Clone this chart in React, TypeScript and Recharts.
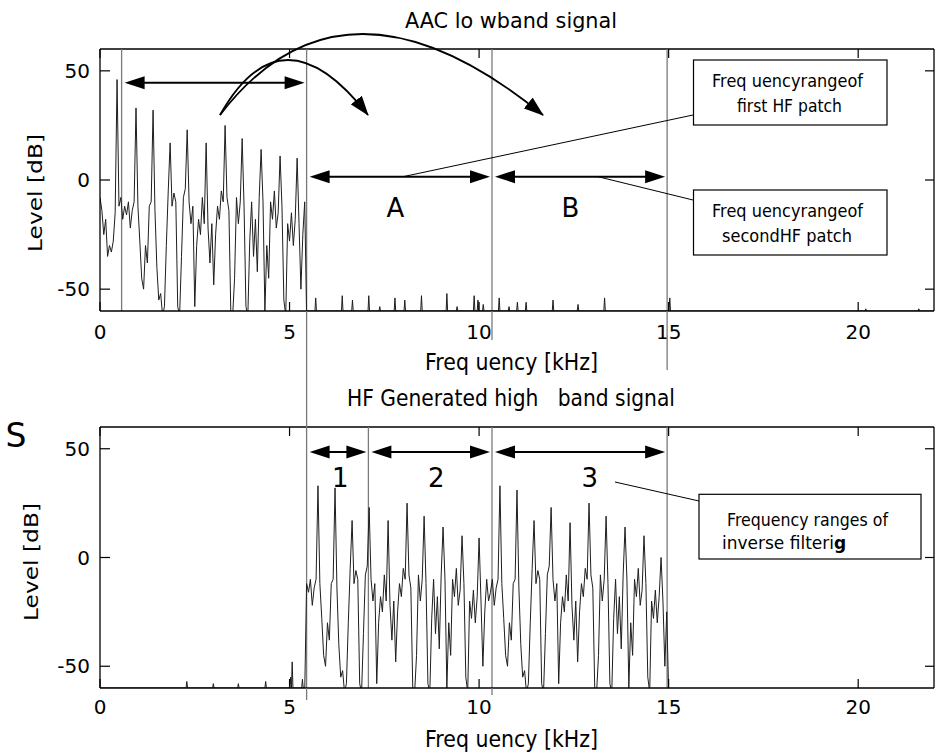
import React from 'react';
import { LineChart, Line, XAxis, YAxis, ReferenceLine, ReferenceDot } from 'recharts';

const FONT = '"DejaVu Sans", Verdana, sans-serif';

// spectrum bins (kHz)
const BIN = 0.05;
const LOWBAND_START = 0;
const HF_START = 5.4;

// AAC lowband spectrum, 0.00 .. 5.45 kHz
const lowbandLevels = [
  -8, -14, -25, -18, -35, -30, -33, -28, -15, 46,
  -12, -8, -18, -12, -16, -10, -22, -14, -10, 33,
  -12, -28, -45, -50, -30, -38, -12, -10, 32, -14,
  -40, -55, -52, -62, -58, -30, -5, 17, -12, -6,
  -10, -58, -62, -35, -8, -4, 23, -10, -20, -12,
  -58, -30, -18, -25, -8, -20, 17, -22, -38, -20,
  -48, -25, -12, -18, -5, -10, 25, -8, -14, -60,
  -62, -45, -8, -20, -10, 19, -12, -58, -62, -28,
  -10, -35, -18, -42, -8, 14, -10, -60, -30, -45,
  -10, -18, -5, -22, -15, 11, -12, -55, -62, -20,
  -28, -15, -30, -18, 10, -20, -50, -25, -10, -62,
];

// HF generated spectrum, 5.40 .. 15.00 kHz
const hfLevels = [
  -62,
  -12, -16, -10, -22, -14, -10, 33,
  -12, -28, -45, -50, -30, -38, -12, -10, 32, -14,
  -40, -55, -52, -62, -58, -30, -5, 17, -12, -6,
  -10, -58, -62, -35, -8, -4, 23, -10, -20, -12,
  -58, -30, -18, -25, -8, -20, 17, -22, -38, -20,
  -48, -25, -12, -18, -5, -10, 25, -8, -14, -60,
  -62, -45, -8, -20, -10, 19, -12, -58, -62, -28,
  -10, -35, -18, -42, -8, 14, -10, -60, -30, -45,
  -10, -18, -5, -22, -15, 10, -12, -55, -62, -20,
  -28, -15, -30, -18, 9, -20, -50, -25, -10, -20,
  -16, -10, -22, -14, -10, 33,
  -12, -28, -45, -50, -30, -38, -12, -10, 31, -14,
  -40, -55, -52, -62, -58, -30, -5, 17, -12, -6,
  -10, -58, -62, -35, -8, -4, 23, -10, -20, -12,
  -58, -30, -18, -25, -8, -20, 16, -22, -38, -20,
  -48, -25, -12, -18, -5, -10, 25, -8, -14, -60,
  -62, -45, -8, -20, -10, 19, -12, -58, -62, -28,
  -10, -35, -18, -42, -8, 14, -10, -60, -30, -45,
  -10, -18, -5, -22, -15, 10, -12, -55, -62, -20,
  -28, -15, -30, -18, 0, -20, -50, -25,
  -62,
];

// small residual spikes sitting on the floor
const FLOOR = -60;
const upperSpikeFreqs = [5.69, 6.39, 6.66, 7.09, 7.38, 7.78, 8.04, 8.48, 9.15, 9.42, 9.87, 9.97, 10.11, 10.53, 10.79, 11.01, 11.24, 11.95, 12.61, 13.31, 15.03, 20.2, 21.6];
const upperSpikeLevels = [-54, -53, -55, -53, -58, -54, -55, -53, -52, -58, -53, -55, -57, -54, -58, -56, -56, -55, -57, -54, -54, -59, -59];
const lowerSpikeFreqs = [2.29, 2.99, 3.65, 4.37, 5.03, 5.07, 5.34];
const lowerSpikeLevels = [-57, -58, -58, -57, -55, -48, -56];

const xTicks = [0, 5, 10, 15, 20];
const yTicks = [-50, 0, 50];

// patch borders (kHz)
const topMarkers = [0.57, 5.45, 10.34, 14.96];
const bottomMarkers = [5.45, 7.08, 10.34, 14.96];

// [from kHz, to kHz, level dB]
const topRanges: [number, number, number][] = [[0.57, 5.45, 44.5], [5.45, 10.34, 1.5], [10.34, 14.96, 1.5]];
const bottomRanges: [number, number, number][] = [[5.45, 7.08, 48.5], [7.08, 10.34, 48.5], [10.34, 14.96, 48.5]];

const topRangeNames = ['A', 'B'];
const topRangeNameFreqs = [7.79, 12.41];
const bottomRangeNames = ['1', '2', '3'];
const bottomRangeNameFreqs = [6.34, 8.87, 12.92];

const X_MAX = 22;
const PLOT_LEFT = 100;
const PLOT_RIGHT = 934;
const kx = (f: number) => PLOT_LEFT + (f / X_MAX) * (PLOT_RIGHT - PLOT_LEFT);

const toSeries = (start: number, levels: number[]) =>
  levels.map((v, i) => ({ f: +(start + i * BIN).toFixed(2), v }));

const spikeSeries = (from: number, to: number, freqs: number[], levels: number[]) => {
  const pts = [{ f: from, v: FLOOR }];
  freqs.forEach((f, i) => {
    pts.push({ f: f - 0.02, v: FLOOR }, { f, v: levels[i] }, { f: f + 0.02, v: FLOOR });
  });
  pts.push({ f: to, v: FLOOR });
  return pts;
};

const XTick = (props: any) => {
  const { x, y, payload, margin, plotTop } = props;
  const axisY = y - margin;
  return (
    <g>
      <line x1={x} x2={x} y1={axisY} y2={axisY - 9} stroke="#000" strokeWidth={1.2} />
      <line x1={x} x2={x} y1={plotTop} y2={plotTop + 9} stroke="#000" strokeWidth={1.2} />
      <text x={x} y={y} dy="0.71em" textAnchor="middle" fontSize={20} fontFamily={FONT} fill="#000">
        {payload.value}
      </text>
    </g>
  );
};

const YTick = (props: any) => {
  const { x, y, payload } = props;
  return (
    <g>
      <line x1={PLOT_LEFT} x2={PLOT_LEFT + 10} y1={y} y2={y} stroke="#000" strokeWidth={1.2} />
      <line x1={PLOT_RIGHT - 9} x2={PLOT_RIGHT} y1={y} y2={y} stroke="#000" strokeWidth={1.2} />
      <text x={x} y={y} dy="0.355em" textAnchor="end" fontSize={20} fontFamily={FONT} fill="#000">
        {payload.value}
      </text>
    </g>
  );
};

const DoubleArrow = (props: any) => {
  const { x1, y1, x2 } = props;
  const L = 20;
  const W = 6.5;
  const a = x1 + 3;
  const b = x2 - 2;
  return (
    <g>
      <line x1={a + L - 2} x2={b - L + 2} y1={y1} y2={y1} stroke="#000" strokeWidth={2} />
      <polygon points={`${a},${y1} ${a + L},${y1 - W} ${a + L},${y1 + W}`} fill="#000" />
      <polygon points={`${b},${y1} ${b - L},${y1 - W} ${b - L},${y1 + W}`} fill="#000" />
    </g>
  );
};

const RangeName = (text: string) => (props: any) => (
  <text x={props.cx} y={props.cy} textAnchor="middle" fontSize={26} fontFamily={FONT} fill="#000">
    {text}
  </text>
);

interface PanelProps {
  height: number;
  xAxisHeight: number;
  tickMargin: number;
  series: { f: number; v: number }[][];
  markers: number[];
  ranges: [number, number, number][];
  names: string[];
  nameFreqs: number[];
  nameLevel: number;
}

const PLOT_TOP = 49;

const SpectrumPanel = ({ height, xAxisHeight, tickMargin, series, markers, ranges, names, nameFreqs, nameLevel }: PanelProps) => (
  <LineChart width={938} height={height} margin={{ top: PLOT_TOP, right: 938 - PLOT_RIGHT, left: 0, bottom: 0 }}>
    <XAxis
      dataKey="f"
      type="number"
      domain={[0, X_MAX]}
      ticks={xTicks}
      allowDataOverflow
      height={xAxisHeight}
      tickSize={0}
      tickMargin={tickMargin}
      axisLine={{ stroke: '#000', strokeWidth: 1.3 }}
      tick={<XTick margin={tickMargin} plotTop={PLOT_TOP} />}
    />
    <YAxis
      type="number"
      domain={[-60, 60]}
      ticks={yTicks}
      allowDataOverflow
      width={PLOT_LEFT}
      tickSize={0}
      tickMargin={10}
      axisLine={{ stroke: '#000', strokeWidth: 1.3 }}
      tick={<YTick />}
    />
    <ReferenceLine y={60} stroke="#000" strokeWidth={1.3} />
    <ReferenceLine x={X_MAX} stroke="#000" strokeWidth={1.3} />
    {markers.map((m) => (
      <ReferenceLine key={m} x={m} stroke="#7a7a7a" strokeWidth={1.3} />
    ))}
    {series.map((d, i) => (
      <Line
        key={i}
        data={d}
        dataKey="v"
        type="linear"
        stroke="#1e1e1e"
        strokeWidth={1}
        dot={false}
        activeDot={false}
        isAnimationActive={false}
      />
    ))}
    {ranges.map(([a, b, lv]) => (
      <ReferenceLine key={`r${a}`} segment={[{ x: a, y: lv }, { x: b, y: lv }]} shape={DoubleArrow} />
    ))}
    {names.map((n, i) => (
      <ReferenceDot key={n} x={nameFreqs[i]} y={nameLevel} r={0} shape={RangeName(n)} />
    ))}
  </LineChart>
);

const gray = { stroke: '#7a7a7a', strokeWidth: 1.3 };

const Overlay = () => (
  <svg width={938} height={754} style={{ position: 'absolute', left: 0, top: 0, pointerEvents: 'none' }}>
    <defs>
      <marker id="head" markerUnits="userSpaceOnUse" markerWidth={20} markerHeight={14} refX={19} refY={7} orient="auto">
        <path d="M0,0 L20,7 L0,14 z" fill="#000" />
      </marker>
    </defs>
    {/* patch borders crossing between panels */}
    <line x1={kx(5.45)} x2={kx(5.45)} y1={311} y2={427} {...gray} />
    <line x1={kx(5.45)} x2={kx(5.45)} y1={688} y2={700} {...gray} />
    <line x1={kx(10.34)} x2={kx(10.34)} y1={311} y2={340} {...gray} />
    <line x1={kx(10.34)} x2={kx(10.34)} y1={688} y2={695} {...gray} />
    <line x1={kx(14.96)} x2={kx(14.96)} y1={311} y2={370} {...gray} />

    <text x={405} y={28} fontSize={22} fontFamily={FONT} textLength={212} lengthAdjust="spacingAndGlyphs">AAC lo wband signal</text>
    <text x={425} y={370} fontSize={23} fontFamily={FONT} textLength={173} lengthAdjust="spacingAndGlyphs" style={{ whiteSpace: 'pre' }}>Freq uency [kHz]</text>
    <text x={347} y={406} fontSize={23} fontFamily={FONT} textLength={328} lengthAdjust="spacingAndGlyphs" style={{ whiteSpace: 'pre' }}>HF Generated high   band signal</text>
    <text x={425} y={747} fontSize={23} fontFamily={FONT} textLength={173} lengthAdjust="spacingAndGlyphs" style={{ whiteSpace: 'pre' }}>Freq uency [kHz]</text>
    <text transform="translate(42,193) rotate(-90)" textAnchor="middle" fontSize={19} fontFamily={FONT} textLength={118} lengthAdjust="spacingAndGlyphs">Level [dB]</text>
    <text transform="translate(38,562) rotate(-90)" textAnchor="middle" fontSize={19} fontFamily={FONT} textLength={118} lengthAdjust="spacingAndGlyphs">Level [dB]</text>
    <text x={16} y={447} textAnchor="middle" fontSize={33} fontFamily={FONT}>S</text>

    {/* copy-up arrows */}
    <path d="M220,115 Q282,5 368,115" fill="none" stroke="#000" strokeWidth={1.8} markerEnd="url(#head)" />
    <path d="M220,115 Q344,-47 543,115" fill="none" stroke="#000" strokeWidth={1.8} markerEnd="url(#head)" />

    {/* callouts */}
    <line x1={693} y1={115} x2={403} y2={176.7} stroke="#000" strokeWidth={1} />
    <line x1={693} y1={200} x2={598} y2={176.7} stroke="#000" strokeWidth={1} />
    <line x1={699} y1={501} x2={615} y2={482} stroke="#000" strokeWidth={1} />

    <rect x={693.5} y={60} width={193.5} height={65} fill="#fff" stroke="#000" strokeWidth={1.2} />
    <text x={712} y={86.7} fontSize={18} fontFamily={FONT} textLength={151} lengthAdjust="spacingAndGlyphs" style={{ whiteSpace: 'pre' }}>Freq uencyrangeof</text>
    <text x={737} y={111.7} fontSize={18} fontFamily={FONT} textLength={105} lengthAdjust="spacingAndGlyphs">first HF patch</text>

    <rect x={693.5} y={190} width={193.5} height={65} fill="#fff" stroke="#000" strokeWidth={1.2} />
    <text x={712} y={216.7} fontSize={18} fontFamily={FONT} textLength={151} lengthAdjust="spacingAndGlyphs" style={{ whiteSpace: 'pre' }}>Freq uencyrangeof</text>
    <text x={722} y={241.7} fontSize={18} fontFamily={FONT} textLength={130} lengthAdjust="spacingAndGlyphs">secondHF patch</text>

    <rect x={699} y={494.3} width={222} height={64.7} fill="#fff" stroke="#000" strokeWidth={1.2} />
    <text x={727} y={526} fontSize={17} fontFamily={FONT} textLength={161} lengthAdjust="spacingAndGlyphs">Frequency ranges of</text>
    <text x={722} y={549} fontSize={17} fontFamily={FONT}>
      inverse filteri<tspan fontWeight="bold">g</tspan>
    </text>
  </svg>
);

const lowbandSeries = toSeries(LOWBAND_START, lowbandLevels);
const hfSeries = toSeries(HF_START, hfLevels);
const upperFloor = spikeSeries(5.45, X_MAX, upperSpikeFreqs, upperSpikeLevels);
const lowerFloor = spikeSeries(0, 5.4, lowerSpikeFreqs, lowerSpikeLevels);

export default function App() {
  return (
    <div style={{ position: 'absolute', left: 0, top: 0, width: 938, height: 754, background: '#fff' }}>
      <div style={{ position: 'absolute', left: 0, top: 0 }}>
        <SpectrumPanel
          height={360}
          xAxisHeight={49}
          tickMargin={14}
          series={[lowbandSeries, upperFloor]}
          markers={topMarkers}
          ranges={topRanges}
          names={topRangeNames}
          nameFreqs={topRangeNameFreqs}
          nameLevel={-17}
        />
      </div>
      <div style={{ position: 'absolute', left: 0, top: 378 }}>
        <SpectrumPanel
          height={376}
          xAxisHeight={66}
          tickMargin={12}
          series={[lowerFloor, hfSeries]}
          markers={bottomMarkers}
          ranges={bottomRanges}
          names={bottomRangeNames}
          nameFreqs={bottomRangeNameFreqs}
          nameLevel={32.6}
        />
      </div>
      <Overlay />
    </div>
  );
}
